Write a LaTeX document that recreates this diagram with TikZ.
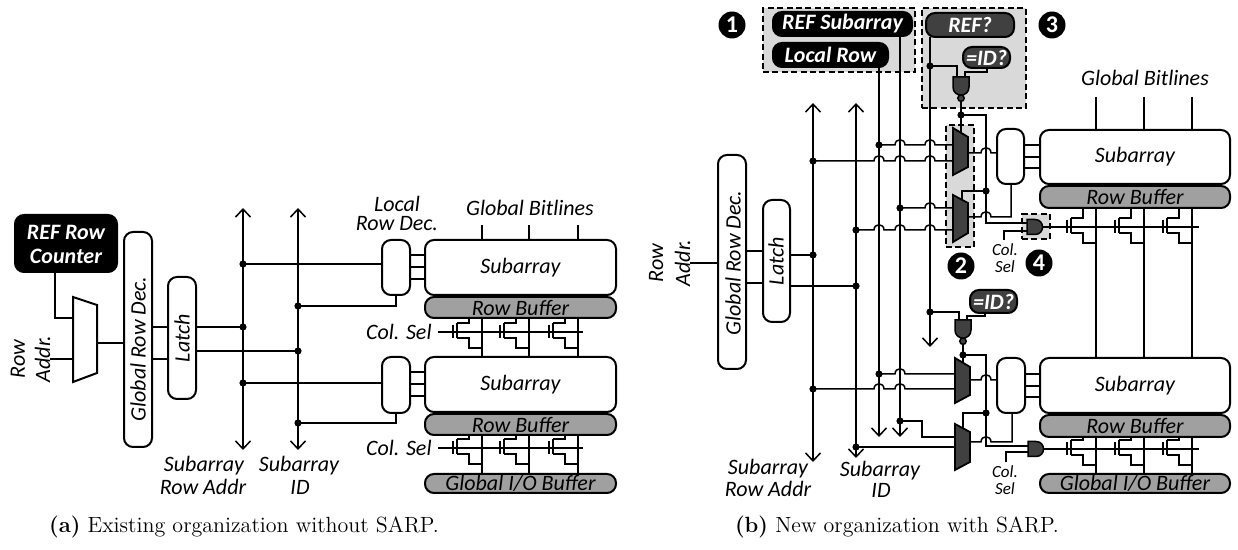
\documentclass[tikz,border=0pt]{standalone}
\usepackage{fontspec}
\setsansfont{Carlito}
\usetikzlibrary{arrows.meta,fit}
\definecolor{rbgray}{RGB}{160,160,160}
\definecolor{dkgray}{RGB}{64,64,64}
\definecolor{ltgray}{RGB}{217,217,217}
\newcommand{\J}[2]{-- ({#1-5},#2) .. controls ({#1-5},{#2-7}) and ({#1+5},{#2-7}) .. ({#1+5},#2)}
\newcommand{\dt}[2]{\fill (#1,#2) circle[radius=1.8pt];}
\newcommand{\trn}[3]{%
  \draw[wire] ({#1-29},{#2-7}) -- ({#1-29},{#2+6});
  \draw[wire] ({#1-25},{#2-9}) -- ({#1-25},{#2+6});
  \draw[wire] ({#1-25},{#2-9}) -- ({#1-13},{#2-9}) -- ({#1-13},#3);
  \draw[wire] ({#1-25},{#2+6}) -- ({#1-13},{#2+6}) -- ({#1-13},{#2+16}) -- (#1,{#2+16});}
\newcommand{\nandg}[2]{%
  \draw[wire, fill=dkgray] ({#1-8},#2) -- ({#1-8},{#2+10}) .. controls ({#1-8},{#2+20.7}) and ({#1+8},{#2+20.7}) .. ({#1+8},{#2+10}) -- ({#1+8},#2) -- cycle;
  \draw[wire, fill=dkgray] (#1,{#2+21.2}) circle[radius=1.6pt];}
\newcommand{\andg}[2]{%
  \draw[wire, fill=dkgray] (#1,{#2-7.5}) -- ({#1+8},{#2-7.5}) .. controls ({#1+18},{#2-7.5}) and ({#1+18},{#2+7.5}) .. ({#1+8},{#2+7.5}) -- (#1,{#2+7.5}) -- cycle;}
\begin{document}
\begin{tikzpicture}[x=0.5pt,y=-0.5pt,
  wire/.style={line width=0.75pt},
  arr/.style={wire, {Straight Barb[length=4pt,width=7.5pt]}-{Straight Barb[length=4pt,width=7.5pt]}},
  arrd/.style={wire, -{Straight Barb[length=4pt,width=7.5pt]}},
  bx/.style={draw, line width=1pt, rounded corners=4.5pt, inner sep=0pt, outer sep=0pt, fill=white},
  gbx/.style={bx, fill=rbgray},
  kbx/.style={bx, fill=black},
  dbx/.style={bx, fill=dkgray},
  dashbox/.style={draw, line width=0.8pt, dash pattern=on 3pt off 1.7pt, fill=ltgray, inner sep=0pt},
  lbl/.style={font=\sffamily\itshape\fontsize{11}{11}\selectfont, inner sep=0pt},
  slbl/.style={font=\sffamily\itshape\fontsize{8.5}{10}\selectfont, inner sep=0pt},
  wlbl/.style={font=\sffamily\bfseries\itshape\fontsize{11}{13}\selectfont, text=white, inner sep=0pt},
  num/.style={circle, fill=black, text=white, font=\sffamily\bfseries\fontsize{12}{12}\selectfont, minimum size=13.5pt, inner sep=0pt},
  captxt/.style={font=\fontsize{11}{13}\selectfont, inner sep=0pt}]
\useasboundingbox (0,0) rectangle (1238,550);

%%%%%%%%%%%%%%%% PART (a) %%%%%%%%%%%%%%%%
\node[kbx, fit={(15,215)(117,272)}] (refrc) {};
\node[wlbl, anchor=base] at (66,240) {REF Row};
\node[wlbl, anchor=base] at (66,264) {Counter};
\draw[wire] (55,272) -- (55,318) -- (73,318);
\draw[wire] (50,359) -- (73,359);
\node[lbl, rotate=90, anchor=base] at (25,359) {Row};
\node[lbl, rotate=90, anchor=base] at (50,359) {Addr.};
\draw[line width=1pt, fill=white] (73,297) -- (97,305) -- (97,373) -- (73,382) -- cycle;
\draw[wire] (97,343) -- (124,343);
\node[bx, fit={(124,232)(152,447)}] (grda) {};
\node[lbl, rotate=90] at (138,349) {Global Row Dec.};
\node[bx, fit={(168,277)(196,399)}] (latcha) {};
\node[lbl, rotate=90] at (182,338) {Latch};
\draw[wire] (152,327) -- (168,327);
\draw[wire] (152,359) -- (168,359);
\draw[wire] (196,327) -- (243,327);
\draw[wire] (196,351) -- (298,351);
\draw[arr] (243,208) -- (243,450);
\draw[arr] (298,208) -- (298,450);
\draw[wire] (243,264) -- (382,264);
\draw[wire] (298,306) -- (396,306) -- (396,295);
\draw[wire] (243,383) -- (382,383);
\draw[wire] (298,423) -- (396,423) -- (396,413);
\foreach \y in {255,267,279,372,384,396} \draw[wire] (410,\y) -- (425,\y);
\foreach \x in {482,529,578} {
  \draw[wire] (\x,225) -- (\x,240);
  \draw[wire] (\x,318) -- (\x,357);
  \draw[wire] (\x,435) -- (\x,474);
  \trn{\x}{332}{318}
  \trn{\x}{448}{435}
}
\draw[wire] (438,332) -- (583,332);
\draw[wire] (438,448) -- (583,448);
\node[bx, fit={(382,240)(410,295)}] (lrd1a) {};
\node[bx, fit={(382,357)(410,413)}] (lrd2a) {};
\node[bx, fit={(425,240)(616,295)}, label={[lbl]center:Subarray}] (sa1a) {};
\node[gbx, fit={(425,297)(616,318)}, label={[lbl]center:Row Buffer}] (rb1a) {};
\node[bx, fit={(425,357)(616,412)}, label={[lbl]center:Subarray}] (sa2a) {};
\node[gbx, fit={(425,414)(616,435)}, label={[lbl]center:Row Buffer}] (rb2a) {};
\node[gbx, fit={(425,474)(616,493)}, label={[lbl]center:Global I/O Buffer}] (gioa) {};
\node[lbl, anchor=base] at (530,216) {Global Bitlines};
\node[lbl, align=center, anchor=south] at (397,231) {Local\\[-1.5pt]Row Dec.};
\node[lbl, anchor=east] at (432,332) {Col. Sel};
\node[lbl, anchor=east] at (432,448) {Col. Sel};
\node[lbl] at (204,466) {Subarray};
\node[lbl] at (203,487) {Row Addr};
\node[lbl] at (299,466) {Subarray};
\node[lbl] at (300,487) {ID};
\dt{243}{264}\dt{243}{327}\dt{243}{383}\dt{298}{306}\dt{298}{351}\dt{298}{423}

%%%%%%%%%%%%%%%% PART (b) %%%%%%%%%%%%%%%%
\node[dashbox, fit={(763,8)(915,72)}] (db1) {};
\node[dashbox, fit={(922,8)(1026,108)}] (db3) {};
\node[dashbox, fit={(946,125)(974,247)}] (db2) {};
\node[dashbox, fit={(1022,214)(1050,239)}] (db4) {};
\node[num] at (732,25) {1};
\node[num] at (961,266) {2};
\node[num] at (1052,25) {3};
\node[num] at (1039,263) {4};

% vertical buses
\draw[arr] (813,103) -- (813,462);
\draw[arr] (856,103) -- (856,458);
\draw[arrd] (879,67) -- (879,437);
\draw[arrd] (900,36) -- (900,437);
\draw[arrd] (930,37) -- (930,347);

% global row dec / latch
\draw[wire] (690,263) -- (718,263);
\node[lbl, rotate=90, anchor=base] at (663,263) {Row};
\node[lbl, rotate=90, anchor=base] at (690,263) {Addr.};
\node[bx, fit={(718,155)(746,369)}] (grdb) {};
\node[lbl, rotate=90] at (733,263) {Global Row Dec.};
\node[bx, fit={(763,200)(790,322)}] (latchb) {};
\node[lbl, rotate=90] at (776,261) {Latch};
\draw[wire] (746,251) -- (763,251);
\draw[wire] (746,283) -- (763,283);
\draw[wire] (790,255) -- (813,255);
\draw[wire] (790,286) -- (856,286);

% upper group wires
\draw[wire] (879,145) \J{900}{145} \J{930}{145} -- (953,145);
\draw[wire] (813,161) \J{879}{161} \J{900}{161} \J{930}{161} -- (953,161);
\draw[wire] (900,208) \J{930}{208} -- (953,208);
\draw[wire] (856,230) \J{879}{230} \J{900}{230} \J{930}{230} -- (953,230);
\draw[wire] (968,153) \J{986}{153} -- (997,153);
\draw[wire] (968,217) \J{986}{217} -- (1011,217) -- (1011,184);
\draw[wire] (930,66) -- (957,66) -- (957,77);
\draw[wire] (965,77) -- (965,72) -- (987,72) -- (987,68);
\draw[wire] (961,100) -- (961,133);
\draw[wire] (961,115) -- (986,115) -- (986,223) -- (1027,223);
\draw[wire] (962,200) -- (962,191) -- (986,191);
\draw[wire] (1004,240) -- (1004,231) -- (1027,231);
\draw[wire] (1042,227) -- (1199,227);
\foreach \y in {145,157,168} \draw[wire] (1024,\y) -- (1040,\y);

% lower group wires
\draw[wire] (879,374) \J{900}{374} -- (955,374);
\draw[wire] (813,389) \J{879}{389} \J{900}{389} -- (955,389);
\draw[wire] (900,421) -- (922,421) -- (922,437) -- (955,437);
\draw[wire] (856,447) -- (955,447);
\draw[wire] (970,380) \J{986}{380} -- (997,380);
\draw[wire] (970,442) \J{986}{442} -- (1012,442) -- (1012,413);
\draw[wire] (930,312) -- (959,312) -- (959,320);
\draw[wire] (967,320) -- (967,316) -- (985,316) -- (985,313);
\draw[wire] (963,343) -- (963,363);
\draw[wire] (963,355) -- (986,355) -- (986,446) -- (1028,446);
\draw[wire] (963,428) -- (963,413) -- (986,413);
\draw[wire] (1006,462) -- (1006,452) -- (1028,452);
\draw[wire] (1043,449) -- (1199,449);
\foreach \y in {374,386,397} \draw[wire] (1025,\y) -- (1040,\y);

% bitlines and transistors (b)
\foreach \x in {1096,1144,1192} {
  \draw[wire] (\x,97) -- (\x,130);
  \draw[wire] (\x,208) -- (\x,358);
  \draw[wire] (\x,437) -- (\x,474);
  \trn{\x}{227}{208}
  \trn{\x}{449}{437}
}

% muxes and gates
\draw[wire, line width=0.9pt, fill=dkgray] (953,128) -- (968,137) -- (968,167) -- (953,175) -- cycle;
\draw[wire, line width=0.9pt, fill=dkgray] (953,195) -- (968,203) -- (968,233) -- (953,242) -- cycle;
\draw[wire, line width=0.9pt, fill=dkgray] (955,358) -- (970,367) -- (970,395) -- (955,403) -- cycle;
\draw[wire, line width=0.9pt, fill=dkgray] (955,424) -- (970,432) -- (970,462) -- (955,470) -- cycle;
\nandg{961}{77}
\nandg{963}{320}
\andg{1027}{227}
\andg{1028}{449}

% boxes (b)
\node[kbx, fit={(773,12)(912,36)}, label={[wlbl]center:REF Subarray}] (refsub) {};
\node[kbx, fit={(773,43)(888,67)}, label={[wlbl]center:Local Row}] (locrow) {};
\node[dbx, fit={(926,13)(1014,37)}, label={[wlbl]center:REF?}] (refq) {};
\node[dbx, fit={(963,47)(1010,68)}, label={[wlbl]center:=ID?}] (idq1) {};
\node[dbx, fit={(970,290)(1017,313)}, label={[wlbl]center:=ID?}] (idq2) {};
\node[bx, fit={(997,129)(1024,184)}] (lrd1b) {};
\node[bx, fit={(997,358)(1025,413)}] (lrd2b) {};
\node[bx, fit={(1040,130)(1230,184)}, label={[lbl]center:Subarray}] (sa1b) {};
\node[gbx, fit={(1040,186)(1230,208)}, label={[lbl]center:Row Buffer}] (rb1b) {};
\node[bx, fit={(1040,358)(1230,413)}, label={[lbl]center:Subarray}] (sa2b) {};
\node[gbx, fit={(1040,415)(1230,437)}, label={[lbl]center:Row Buffer}] (rb2b) {};
\node[gbx, fit={(1040,474)(1230,493)}, label={[lbl]center:Global I/O Buffer}] (giob) {};

% dots (b)
\dt{813}{161}\dt{813}{255}\dt{813}{389}
\dt{856}{230}\dt{856}{286}\dt{856}{447}
\dt{879}{145}\dt{879}{374}\dt{900}{208}\dt{900}{421}
\dt{930}{66}\dt{930}{312}\dt{961}{115}\dt{986}{191}\dt{963}{355}\dt{986}{413}

% labels (b)
\node[lbl, anchor=base] at (1145,86) {Global Bitlines};
\node[slbl] at (1005,250) {Col.};
\node[slbl] at (1005,267) {Sel};
\node[slbl] at (1005,472) {Col.};
\node[slbl] at (1005,489) {Sel};
\node[lbl] at (768,469) {Subarray};
\node[lbl] at (768,489) {Row Addr};
\node[lbl] at (880,471) {Subarray};
\node[lbl] at (881,490) {ID};

% captions
\node[captxt] at (244,527) {\textbf{(a)} Existing organization without SARP.};
\node[captxt] at (897,527) {\textbf{(b)} New organization with SARP.};
\end{tikzpicture}
\end{document}
